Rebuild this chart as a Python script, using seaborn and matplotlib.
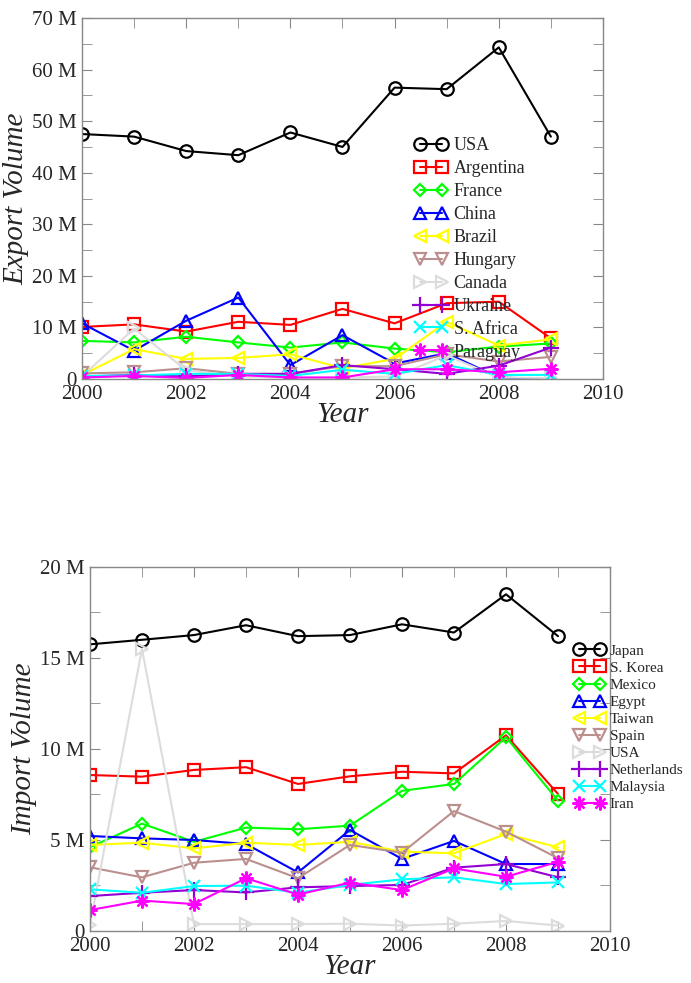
import numpy as np
import pandas as pd
import seaborn as sns
import matplotlib
matplotlib.use("Agg")
import matplotlib.pyplot as plt
from matplotlib.ticker import FuncFormatter, MultipleLocator

# data (millions)
years = [2000, 2001, 2002, 2003, 2004, 2005, 2006, 2007, 2008, 2009]

export_names = ["USA", "Argentina", "France", "China", "Brazil", "Hungary",
                "Canada", "Ukraine", "S. Africa", "Paraguay"]
usa_exp = [47.5, 47.0, 44.2, 43.4, 47.8, 45.0, 56.5, 56.2, 64.3, 47.0]
argentina_exp = [10.1, 10.6, 9.2, 11.1, 10.5, 13.6, 10.8, 14.7, 15.0, 7.9]
france_exp = [7.4, 7.1, 8.2, 7.1, 6.1, 7.1, 5.9, 5.2, 6.3, 6.9]
china_exp = [10.8, 5.5, 11.3, 15.8, 2.7, 8.5, 3.0, 5.0, 0.3, 0.0]
brazil_exp = [0.8, 5.8, 3.9, 4.1, 4.8, 2.1, 3.9, 11.1, 6.5, 7.7]
hungary_exp = [1.1, 1.3, 2.1, 1.0, 1.0, 2.5, 2.5, 4.8, 3.4, 4.3]
canada_exp = [0.5, 9.8, 1.7, 0.5, 0.3, 0.3, 0.5, 4.6, 0.3, 0.2]
ukraine_exp = [0.5, 0.8, 0.5, 1.0, 1.0, 2.7, 1.9, 1.0, 2.6, 6.1]
safrica_exp = [0.6, 0.7, 1.0, 1.0, 0.6, 1.8, 1.0, 2.7, 0.8, 0.8]
paraguay_exp = [0.3, 0.6, 0.2, 0.8, 0.3, 0.3, 1.9, 1.9, 1.3, 2.0]
export_values = [usa_exp, argentina_exp, france_exp, china_exp, brazil_exp,
                 hungary_exp, canada_exp, ukraine_exp, safrica_exp, paraguay_exp]

import_names = ["Japan", "S. Korea", "Mexico", "Egypt", "Taiwan", "Spain",
                "USA", "Netherlands", "Malaysia", "Iran"]
japan_imp = [15.75, 16.0, 16.26, 16.8, 16.2, 16.26, 16.85, 16.4, 18.5, 16.2]
korea_imp = [8.57, 8.48, 8.85, 9.0, 8.08, 8.5, 8.75, 8.66, 10.75, 7.53]
mexico_imp = [4.6, 5.9, 4.9, 5.68, 5.59, 5.79, 7.7, 8.08, 10.65, 7.16]
egypt_imp = [5.22, 5.09, 5.0, 4.78, 3.22, 5.55, 3.96, 4.95, 3.68, 3.68]
taiwan_imp = [4.73, 4.85, 4.54, 4.85, 4.73, 4.9, 4.36, 4.27, 5.33, 4.6]
spain_imp = [3.5, 2.95, 3.75, 3.96, 2.9, 4.73, 4.3, 6.59, 5.46, 4.0]
usa_imp = [0.33, 15.5, 0.38, 0.38, 0.38, 0.4, 0.3, 0.4, 0.55, 0.3]
netherlands_imp = [1.92, 2.1, 2.25, 2.12, 2.4, 2.47, 2.53, 3.48, 3.68, 2.95]
malaysia_imp = [2.29, 2.1, 2.47, 2.49, 2.1, 2.53, 2.84, 2.95, 2.58, 2.67]
iran_imp = [1.15, 1.67, 1.48, 2.9, 2.0, 2.66, 2.25, 3.44, 2.98, 3.8]
import_values = [japan_imp, korea_imp, mexico_imp, egypt_imp, taiwan_imp,
                 spain_imp, usa_imp, netherlands_imp, malaysia_imp, iran_imp]

colors = ["black", "red", "#00ff00", "blue", "yellow", "#bc8f8f",
          "#dcdcdc", "#9400d3", "cyan", "magenta"]
markers = ["o", "s", "D", "^", "<", "v", ">", "+", "x", (8, 2, 0)]
msizes = [9, 8, 6.5, 9, 9, 9, 9, 11, 8, 10]

sns.set_style("ticks")
plt.rcParams["font.family"] = ["Liberation Serif", "DejaVu Serif"]

fig = plt.figure(figsize=(6.91, 9.83), dpi=100)
ax1 = fig.add_axes([0.1187, 0.6144, 0.8726 - 0.1187, 0.9817 - 0.6144])
ax2 = fig.add_axes([0.1302, 0.0529, 0.8828 - 0.1302, 0.4232 - 0.0529])


def draw(ax, names, values):
    for name, vals, c, m, ms in zip(names, values, colors, markers, msizes):
        df = pd.DataFrame({"year": years, "value": vals})
        sns.lineplot(data=df, x="year", y="value", ax=ax, color=c, marker=m,
                     markersize=ms, markerfacecolor="none", markeredgecolor=c,
                     markeredgewidth=1.6, linewidth=1.5, label=name,
                     legend=False)


def fmt(v, pos):
    return "0" if abs(v) < 1e-9 else f"{int(round(v))} M"


def style(ax, ymax, ymajor, ylabel):
    ax.set_xlim(2000, 2010)
    ax.set_ylim(0, ymax)
    ax.xaxis.set_major_locator(MultipleLocator(2))
    ax.xaxis.set_minor_locator(MultipleLocator(1))
    ax.yaxis.set_major_locator(MultipleLocator(ymajor))
    ax.yaxis.set_minor_locator(MultipleLocator(ymajor / 2))
    ax.yaxis.set_major_formatter(FuncFormatter(fmt))
    ax.tick_params(which="both", direction="in", top=True, right=True,
                   color="#888888", labelsize=15, pad=4, length=7)
    for s in ax.spines.values():
        s.set_color("#888888")
        s.set_linewidth(1.0)
    ax.set_xlabel("Year", fontsize=21, style="italic", labelpad=-1)
    ax.set_ylabel(ylabel, fontsize=21, style="italic", labelpad=2)


draw(ax1, export_names, export_values)
style(ax1, 70, 10, "Export Volume")
ax1.legend(loc="upper left", bbox_to_anchor=(0.625, 0.69), frameon=False,
           numpoints=2, handlelength=1.8, fontsize=13, labelspacing=0.33,
           handletextpad=0.35, borderaxespad=0)

draw(ax2, import_names, import_values)
style(ax2, 20, 5, "Import Volume")
ax2.legend(loc="upper left", bbox_to_anchor=(0.92, 0.805), frameon=False,
           numpoints=2, handlelength=2.0, fontsize=11, labelspacing=0.22,
           handletextpad=0.3, borderaxespad=0)

fig.savefig("out.png", dpi=100)
